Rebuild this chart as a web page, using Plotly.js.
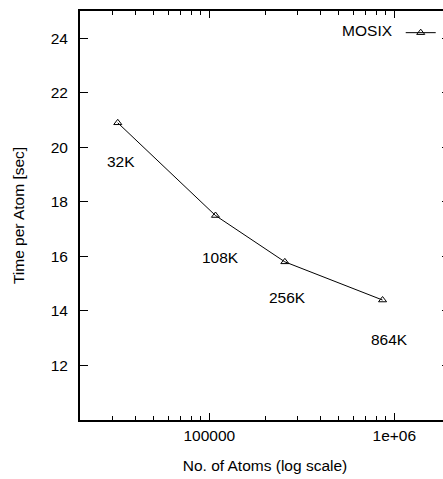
<!DOCTYPE html>
<html>
<head>
<meta charset="utf-8">
<script src="https://cdn.plot.ly/plotly-3.0.1.min.js"></script>
<style>
  html, body { margin: 0; padding: 0; overflow: hidden; background: #fff; }
  #chart { width: 451px; height: 479px; }
</style>
</head>
<body>
<div id="chart"></div>
<script>
// Problem sizes (number of atoms) and measured time per atom
const atoms = [32000, 108000, 256000, 864000];
const timePerAtom = [20.9, 17.5, 15.8, 14.4];
const sizeLabels = ['32K', '108K', '256K', '864K'];
const seriesName = 'MOSIX';

// Axis ticks
const xTickVals = [100000, 1000000];
const xTickText = ['100000', '1e+06'];
const yTickVals = [12, 14, 16, 18, 20, 22, 24];

// Offsets of the size labels relative to their points (px)
const labelShift = [[3, -39], [5, -42], [3, -36], [7, -39]];

const FONT = 'Liberation Sans, Arial, Helvetica, sans-serif';
const FS = 15.5;
const INK = '#000';

// Minor log ticks (2..9 in each decade)
const minorVals = [];
for (let d = 1e4; d <= 1e6; d *= 10) {
  for (let k = 2; k <= 9; k++) {
    const v = k * d;
    if (v >= 20000 && v <= 2000000) minorVals.push(v);
  }
}
minorVals.push(2000000);

// The legend entry shows only the sample; the series name is the legend title,
// drawn on the left of the sample.
const trace = {
  x: atoms,
  y: timePerAtom,
  name: '',
  type: 'scatter',
  mode: 'lines+markers',
  line: { color: INK, width: 1 },
  marker: { symbol: 'triangle-up-open', size: 7, color: INK, line: { width: 1, color: INK } },
  showlegend: true
};

const annotations = atoms.map((a, i) => ({
  x: Math.log10(a),
  y: timePerAtom[i],
  xref: 'x', yref: 'y',
  text: sizeLabels[i],
  showarrow: false,
  xshift: labelShift[i][0],
  yshift: labelShift[i][1],
  font: { family: FONT, size: FS, color: INK }
}));

const layout = {
  width: 451,
  height: 479,
  margin: { l: 80, r: 1, t: 11, b: 59 },
  paper_bgcolor: '#fff',
  plot_bgcolor: '#fff',
  font: { family: FONT, size: FS, color: INK },
  showlegend: true,
  legend: {
    x: 0.703, y: 0.946, xanchor: 'left', yanchor: 'middle',
    bgcolor: 'rgba(0,0,0,0)',
    borderwidth: 0,
    title: { text: seriesName, side: 'left', font: { family: FONT, size: FS, color: INK } },
    font: { family: FONT, size: FS, color: INK }
  },
  xaxis: {
    type: 'log',
    range: [Math.log10(20000), Math.log10(2000000)],
    tickmode: 'array',
    tickvals: xTickVals,
    ticktext: xTickText,
    ticks: 'inside',
    ticklen: 7,
    tickwidth: 1,
    tickcolor: INK,
    minor: { tickmode: 'array', tickvals: minorVals, ticks: 'inside', ticklen: 4, tickwidth: 1, tickcolor: INK, showgrid: false },
    showline: true,
    linewidth: 2,
    linecolor: INK,
    mirror: 'ticks',
    showgrid: false,
    zeroline: false,
    automargin: false,
    tickfont: { family: FONT, size: FS, color: INK },
    title: { text: 'No. of Atoms (log scale)', font: { family: FONT, size: FS, color: INK }, standoff: 18 }
  },
  yaxis: {
    range: [10, 25],
    tickmode: 'array',
    tickvals: yTickVals,
    ticks: 'inside',
    ticklen: 8,
    tickwidth: 1,
    tickcolor: INK,
    ticklabelstandoff: 7,
    showline: true,
    linewidth: 2,
    linecolor: INK,
    mirror: 'ticks',
    showgrid: false,
    zeroline: false,
    automargin: false,
    tickfont: { family: FONT, size: FS, color: INK },
    title: { text: 'Time per Atom [sec]', font: { family: FONT, size: FS, color: INK }, standoff: 22 }
  },
  annotations: annotations
};

Plotly.newPlot('chart', [trace], layout, { displayModeBar: false, staticPlot: true });
</script>
</body>
</html>
